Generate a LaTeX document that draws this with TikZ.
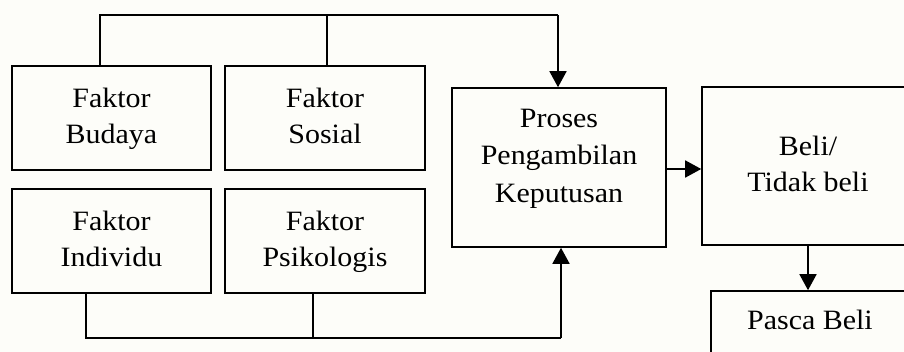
\documentclass[tikz,border=0pt]{standalone}
\usepackage{fontspec}
\setmainfont[FakeStretch=1.07]{Liberation Serif}
\usetikzlibrary{arrows.meta}
\definecolor{bgc}{RGB}{253,253,249}
\tikzset{
  box/.style={draw=black, line width=1.6pt, rectangle, inner sep=0pt, align=center,
    font=\fontsize{28}{36.5}\selectfont},
  txt/.style={inner sep=0pt, align=center, font=\fontsize{28}{37.5}\selectfont},
  conn/.style={draw=black, line width=1.6pt},
  arr/.style={conn, -{Triangle[length=16pt, width=17pt]}}
}
\begin{document}
\begin{tikzpicture}[x=1pt, y=-1pt]
\fill[bgc] (0,0) rectangle (904,352);
\useasboundingbox (0,0) rectangle (904,352);
\clip (0,0) rectangle (904,352);
% factor boxes
\node[box, minimum width=199pt, minimum height=104pt] (bud) at (111.5,118) {\strut Faktor\\Budaya\strut};
\node[box, minimum width=200pt, minimum height=104pt] (sos) at (325,118) {\strut Faktor\\Sosial\strut};
\node[box, minimum width=199pt, minimum height=104pt] (ind) at (111.5,241) {\strut Faktor\\Individu\strut};
\node[box, minimum width=200pt, minimum height=104pt] (psi) at (325,241) {\strut Faktor\\Psikologis\strut};
% process box
\node[box, minimum width=214pt, minimum height=159pt] (pro) at (559,167.5) {};
\node[txt] (protxt) at (559,157.5) {\strut Proses\\Pengambilan\\Keputusan\strut};
% right boxes (cut by the picture edge)
\node[box, minimum width=212pt, minimum height=158pt] (beli) at (808,166) {\strut Beli/\\Tidak beli\strut};
\node[box, minimum width=198pt, minimum height=70pt] (pas) at (810,326) {};
\node[txt] (pastxt) at (810,321.5) {\strut Pasca Beli};
% top collector
\coordinate (tl) at (100,15);
\coordinate (tr) at (558,15);
\draw[conn] ([xshift=-11.5pt]bud.north) -- (tl) -- (tr);
\draw[conn] ([xshift=2pt]sos.north) -- ([xshift=2pt]sos.north |- tl);
\draw[arr] (tr) -- (tr |- pro.north);
% bottom collector
\coordinate (bl) at (86,338);
\coordinate (br) at (561,338);
\draw[conn] ([xshift=-25.5pt]ind.south) -- (bl) -- (br);
\draw[conn] ([xshift=-12pt]psi.south) -- ([xshift=-12pt]psi.south |- bl);
\draw[arr] (br) -- (br |- pro.south);
% process to decision
\draw[arr] ([yshift=-1.5pt]pro.east) -- ([yshift=-1.5pt]pro.east -| beli.west);
% decision to post purchase
\draw[arr] (beli.south) -- (beli.south |- pas.north);
\end{tikzpicture}
\end{document}
